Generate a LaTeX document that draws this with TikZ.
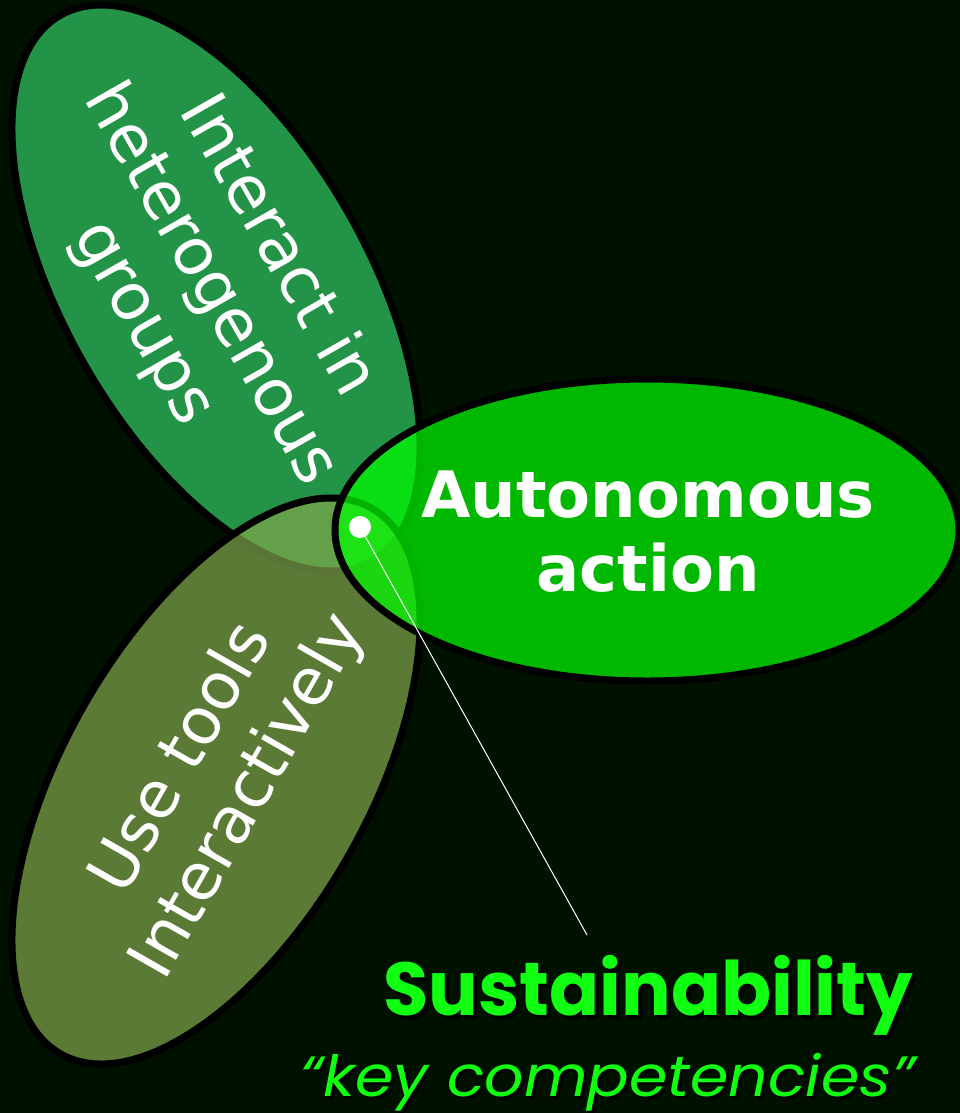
\documentclass[tikz,border=0pt]{standalone}
\usepackage{fontspec}
\usepackage{graphicx}
\setmainfont{DejaVu Sans}
\newfontfamily\popfont{Poppins}
\definecolor{bgc}{HTML}{001100}
\definecolor{topc}{HTML}{33CC66}
\definecolor{olivec}{RGB}{129,167,76}
\definecolor{rightc}{HTML}{00FF00}
\definecolor{lime}{HTML}{11FF11}
\begin{document}
\begin{tikzpicture}[x=1pt,y=-1pt,
  petal/.style={draw=black, line width=7pt, fill opacity=0.7},
  lbl/.style={text=white, align=center, font=\fontsize{65}{77}\selectfont, inner sep=0pt},
  boldlbl/.style={text=white, align=center, font=\fontsize{64}{74}\selectfont\bfseries, inner sep=0pt},
  titlefont/.style={inner sep=0pt, anchor=base west}]
\fill[bgc] (0,0) rectangle (960,1113);
\useasboundingbox (0,0) rectangle (960,1113);
\draw[petal, fill=topc, rotate around={-60.3:(216,288)}] (216,288) ellipse [x radius=314, y radius=152];
\draw[petal, fill=olivec, rotate around={60.3:(216,781)}] (216,781) ellipse [x radius=314, y radius=152];
\draw[petal, fill=rightc] (647,530) ellipse [x radius=312, y radius=151];
\node[lbl, rotate=-60.3] (inter) at (210,285) {Interact in\\heterogenous\\groups};
\node[lbl, rotate=60.3] (tools) at (216,778) {Use tools\\Interactively};
\node[boldlbl] (auto) at (648,532) {Autonomous\\action};
\coordinate (tip) at (587,935);
\node[circle, fill=white, minimum size=22pt, inner sep=0pt] (dot) at (360,527) {};
\draw[white, line width=1pt] (dot.center) -- (tip);
\node[titlefont, text=black] (susshadow) at (387,1019) {\resizebox*{530pt}{80pt}{\popfont\bfseries Sustainability}};
\node[titlefont, text=lime] (sus) at (383,1015) {\resizebox*{530pt}{80pt}{\popfont\bfseries Sustainability}};
\node[titlefont, text=black] (kcshadow) at (303,1099) {\resizebox*{615pt}{58pt}{\popfont\itshape “key competencies”}};
\node[titlefont, text=lime] (kc) at (300,1096) {\resizebox*{615pt}{58pt}{\popfont\itshape “key competencies”}};
\end{tikzpicture}
\end{document}
